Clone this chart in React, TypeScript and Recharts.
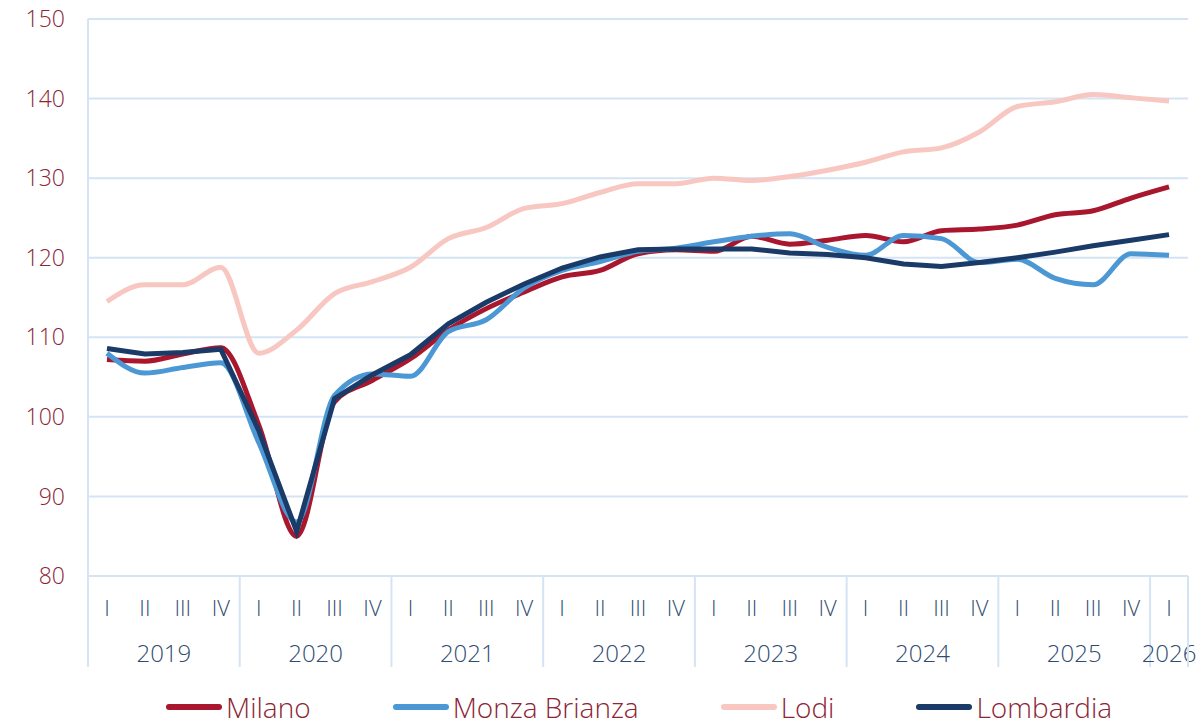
import { LineChart, Line, XAxis, YAxis, CartesianGrid, Legend } from "recharts";

const quarters = ["I", "II", "III", "IV", "I", "II", "III", "IV", "I", "II", "III", "IV", "I", "II", "III", "IV", "I", "II", "III", "IV", "I", "II", "III", "IV", "I", "II", "III", "IV", "I"];
const years = [
  "2019", "2019", "2019", "2019", "2020", "2020", "2020", "2020", "2021", "2021", "2021", "2021",
  "2022", "2022", "2022", "2022", "2023", "2023", "2023", "2023", "2024", "2024", "2024", "2024",
  "2025", "2025", "2025", "2025", "2026",
];

const milano = [107.2, 107.0, 107.9, 108.7, 99.0, 85.0, 101.9, 104.6, 107.3, 110.9, 113.6, 115.7, 117.6, 118.4, 120.5, 121.0, 120.8, 122.7, 121.7, 122.2, 122.8, 122.0, 123.4, 123.6, 124.1, 125.4, 125.9, 127.5, 128.9];
const monza = [108.0, 105.5, 106.2, 106.8, 96.8, 86.8, 102.7, 105.4, 105.1, 110.7, 112.2, 116.2, 118.4, 119.5, 120.8, 121.2, 122.0, 122.7, 123.0, 121.3, 120.3, 122.8, 122.4, 119.4, 119.8, 117.4, 116.6, 120.5, 120.3];
const lodi = [114.5, 116.6, 116.6, 118.8, 108.0, 110.9, 115.5, 117.0, 118.8, 122.4, 123.8, 126.2, 126.8, 128.2, 129.3, 129.3, 130.0, 129.7, 130.2, 131.0, 132.0, 133.3, 133.8, 135.8, 139.0, 139.6, 140.5, 140.1, 139.7];
const lombardia = [108.6, 107.9, 108.1, 108.5, 98.3, 85.6, 102.3, 105.3, 107.8, 111.7, 114.4, 116.7, 118.7, 120.1, 121.0, 121.1, 121.1, 121.1, 120.6, 120.4, 120.0, 119.2, 118.9, 119.4, 120.0, 120.7, 121.5, 122.2, 122.9];

const yTicks = [80, 90, 100, 110, 120, 130, 140, 150];

const series = [
  { key: "Milano", color: "#a8172e", type: "monotone" },
  { key: "Monza Brianza", color: "#4b98d5", type: "monotone" },
  { key: "Lodi", color: "#f8c7c1", type: "monotone" },
  { key: "Lombardia", color: "#1a3a68", type: "linear" },
];

const chartData = quarters.map((q, i) => ({
  period: `${years[i]} ${q}`,
  Milano: milano[i],
  "Monza Brianza": monza[i],
  Lodi: lodi[i],
  Lombardia: lombardia[i],
}));

const W = 1199;
const H = 724;
const LEFT = 88;
const RIGHT = 11;
const GRID = "#d5e4f4";
const FONT = "'Open Sans', sans-serif";
const step = (W - LEFT - RIGHT) / quarters.length;

function QuarterTick(props: any) {
  const { x, y, payload } = props;
  const i = payload.index;
  const year = years[i];
  const first = i === 0 || years[i - 1] !== year;
  const count = years.filter((v) => v === year).length;
  const isLast = i === years.length - 1;
  return (
    <g>
      <text x={x} y={y + 31} textAnchor="middle" dominantBaseline="central" fill="#2f4c72" fontSize={22} fontFamily={FONT} fontWeight={300}>
        {quarters[i]}
      </text>
      {first && (
        <>
          <line x1={x - step / 2} x2={x - step / 2} y1={y} y2={y + 91} stroke={GRID} strokeWidth={2} />
          <text x={x + ((count - 1) * step) / 2} y={y + 76} textAnchor="middle" dominantBaseline="central" fill="#2f4c72" fontSize={24} fontFamily={FONT} fontWeight={300}>
            {year}
          </text>
        </>
      )}
      {isLast && <line x1={x + step / 2} x2={x + step / 2} y1={y} y2={y + 91} stroke={GRID} strokeWidth={2} />}
    </g>
  );
}

function LegendContent() {
  return (
    <div style={{ display: "flex", height: 57, paddingLeft: 166, paddingBottom: 1, alignItems: "flex-end", gap: 82, boxSizing: "border-box" }}>
      {series.map((s) => (
        <div key={s.key} style={{ display: "flex", alignItems: "center", height: 32 }}>
          <svg width={56} height={10}>
            <line x1={3} x2={53} y1={5} y2={5} stroke={s.color} strokeWidth={6} strokeLinecap="round" />
          </svg>
          <span style={{ marginLeft: 4, color: "#8c2535", fontSize: 28, fontFamily: FONT, fontWeight: 300, lineHeight: "32px" }}>{s.key}</span>
        </div>
      ))}
    </div>
  );
}

export default function App() {
  return (
    <div style={{ position: "absolute", left: 0, top: 0, width: W, height: H, background: "#fff" }}>
      <LineChart width={W} height={H} data={chartData} margin={{ top: 19, right: RIGHT, left: 0, bottom: 0 }}>
        <CartesianGrid vertical={false} stroke={GRID} strokeWidth={2} />
        <XAxis
          dataKey="period"
          scale="band"
          interval={0}
          height={91}
          tickLine={false}
          tickSize={0}
          tickMargin={0}
          axisLine={{ stroke: GRID, strokeWidth: 2 }}
          tick={<QuarterTick />}
        />
        <YAxis
          width={LEFT}
          domain={[80, 150]}
          ticks={yTicks}
          interval={0}
          tickLine={false}
          tickMargin={17}
          axisLine={{ stroke: GRID, strokeWidth: 2 }}
          tick={{ fill: "#8c2535", fontSize: 23, fontFamily: FONT, fontWeight: 300 }}
        />
        <Legend verticalAlign="bottom" height={57} content={<LegendContent />} />
        {series.map((s) => (
          <Line
            key={s.key}
            dataKey={s.key}
            type={s.type as any}
            stroke={s.color}
            strokeWidth={5}
            dot={false}
            activeDot={false}
            isAnimationActive={false}
          />
        ))}
      </LineChart>
    </div>
  );
}
